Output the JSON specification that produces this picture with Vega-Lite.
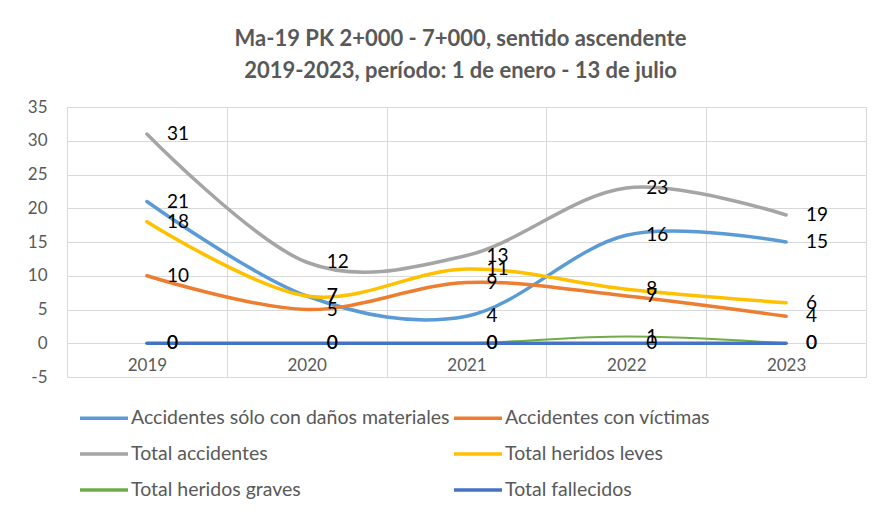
{
  "$schema": "https://vega.github.io/schema/vega-lite/v6.json",
  "width": 799,
  "height": 270,
  "autosize": {"type": "none"},
  "padding": {"left": 67, "top": 107, "right": 16, "bottom": 136},
  "background": "white",
  "config": {"view": {"stroke": "#D9D9D9", "strokeWidth": 1}, "axisY": {"labelOverlap": false}},
  "title": {
    "text": ["Ma-19 PK 2+000 - 7+000, sentido ascendente", "2019-2023, período: 1 de enero - 13 de julio"],
    "font": "Lato", "fontSize": 22, "fontWeight": "bold", "color": "#595959",
    "lineHeight": 32, "offset": 15, "anchor": "middle", "dx": -6
  },
  "data": {"values": [
    {"year": "2019", "serie": "Accidentes sólo con daños materiales", "value": 21},
    {"year": "2020", "serie": "Accidentes sólo con daños materiales", "value": 7},
    {"year": "2021", "serie": "Accidentes sólo con daños materiales", "value": 4},
    {"year": "2022", "serie": "Accidentes sólo con daños materiales", "value": 16},
    {"year": "2023", "serie": "Accidentes sólo con daños materiales", "value": 15},
    {"year": "2019", "serie": "Accidentes con víctimas", "value": 10},
    {"year": "2020", "serie": "Accidentes con víctimas", "value": 5},
    {"year": "2021", "serie": "Accidentes con víctimas", "value": 9},
    {"year": "2022", "serie": "Accidentes con víctimas", "value": 7},
    {"year": "2023", "serie": "Accidentes con víctimas", "value": 4},
    {"year": "2019", "serie": "Total accidentes", "value": 31},
    {"year": "2020", "serie": "Total accidentes", "value": 12},
    {"year": "2021", "serie": "Total accidentes", "value": 13},
    {"year": "2022", "serie": "Total accidentes", "value": 23},
    {"year": "2023", "serie": "Total accidentes", "value": 19},
    {"year": "2019", "serie": "Total heridos leves", "value": 18},
    {"year": "2020", "serie": "Total heridos leves", "value": 7},
    {"year": "2021", "serie": "Total heridos leves", "value": 11},
    {"year": "2022", "serie": "Total heridos leves", "value": 8},
    {"year": "2023", "serie": "Total heridos leves", "value": 6},
    {"year": "2019", "serie": "Total heridos graves", "value": 0},
    {"year": "2020", "serie": "Total heridos graves", "value": 0},
    {"year": "2021", "serie": "Total heridos graves", "value": 0},
    {"year": "2022", "serie": "Total heridos graves", "value": 1},
    {"year": "2023", "serie": "Total heridos graves", "value": 0},
    {"year": "2019", "serie": "Total fallecidos", "value": 0},
    {"year": "2020", "serie": "Total fallecidos", "value": 0},
    {"year": "2021", "serie": "Total fallecidos", "value": 0},
    {"year": "2022", "serie": "Total fallecidos", "value": 0},
    {"year": "2023", "serie": "Total fallecidos", "value": 0}
  ]},
  "layer": [
    {
      "mark": {"type": "line", "interpolate": "cardinal", "tension": 0, "strokeCap": "round"},
      "encoding": {
        "x": {
          "field": "year", "type": "ordinal",
          "scale": {"type": "band", "paddingInner": 0, "paddingOuter": 0},
          "bandPosition": 0.5,
          "axis": {
            "title": null, "labelAngle": 0, "tickBand": "extent", "ticks": false, "domain": false,
            "offset": -34, "labelPadding": 14, "labelFont": "Lato", "labelFontSize": 17,
            "labelColor": "#595959", "grid": true, "gridColor": "#D9D9D9"
          }
        },
        "y": {
          "field": "value", "type": "quantitative",
          "scale": {"domain": [-5, 35], "nice": false, "zero": false},
          "axis": {
            "title": null, "values": [-5, 0, 5, 10, 15, 20, 25, 30, 35], "ticks": false, "domain": false,
            "labelOverlap": false, "labelExpr": "'' + datum.value",
            "labelPadding": 20, "labelFont": "Lato", "labelFontSize": 17, "labelColor": "#595959",
            "gridColor": "#D9D9D9"
          }
        },
        "color": {
          "field": "serie", "type": "nominal",
          "scale": {
            "domain": ["Accidentes sólo con daños materiales", "Total accidentes", "Total heridos graves", "Accidentes con víctimas", "Total heridos leves", "Total fallecidos"],
            "range": ["#5B9BD5", "#A5A5A5", "#70AD47", "#ED7D31", "#FFC000", "#4472C4"]
          },
          "legend": {
            "title": null, "orient": "none", "legendX": 11, "legendY": 285, "columns": 2,
            "symbolType": "stroke", "symbolSize": 2304, "symbolStrokeWidth": 3.5,
            "labelFont": "Lato", "labelFontSize": 19.5, "labelColor": "#595959", "labelOffset": 1,
            "columnPadding": -3, "rowPadding": -0.5, "padding": 0, "labelLimit": 400
          }
        },
        "strokeWidth": {
          "condition": {"test": "datum.serie === 'Total heridos graves'", "value": 2},
          "value": 3.5
        }
      }
    },
    {
      "mark": {"type": "text", "align": "left", "baseline": "middle", "dx": 20, "font": "Lato", "fontSize": 19, "fill": "black"},
      "encoding": {
        "x": {"field": "year", "type": "ordinal", "bandPosition": 0.5},
        "y": {
          "field": "value", "type": "quantitative",
          "axis": {
            "title": null, "values": [-5, 0, 5, 10, 15, 20, 25, 30, 35], "ticks": false, "domain": false,
            "labelOverlap": false, "labelExpr": "'' + datum.value",
            "labelPadding": 20, "labelFont": "Lato", "labelFontSize": 17, "labelColor": "#595959",
            "gridColor": "#D9D9D9"
          }
        },
        "text": {"field": "value", "type": "quantitative"}
      }
    }
  ]
}
